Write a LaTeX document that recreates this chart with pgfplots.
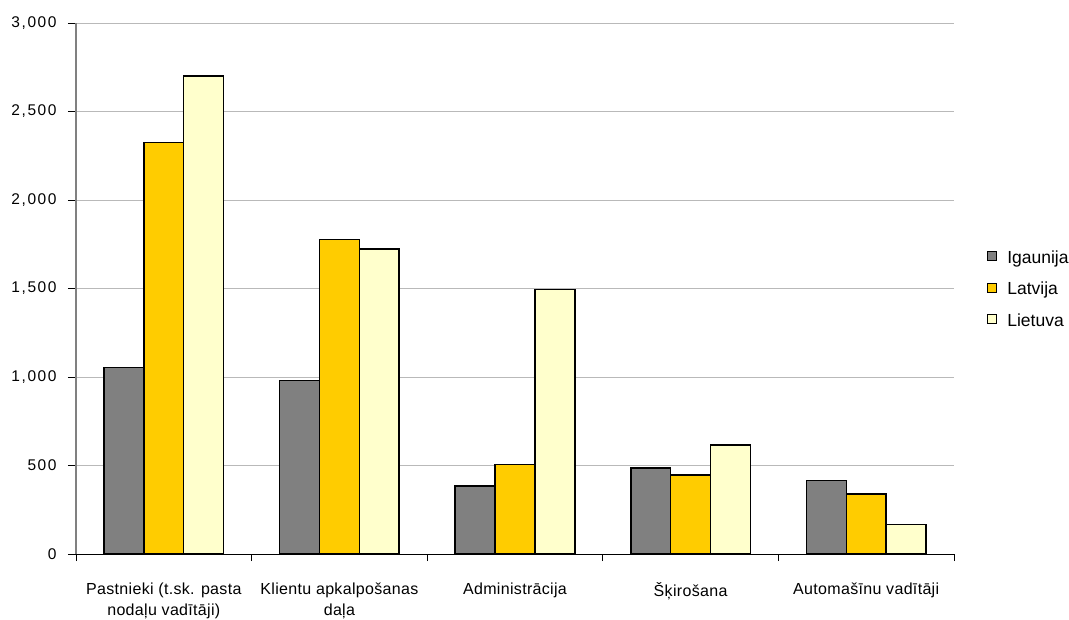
\documentclass[border=0pt]{standalone}
\usepackage{fontspec}
\setmainfont{Liberation Sans}
\newfontfamily\xfont[LetterSpace=2]{Liberation Sans}
\newfontfamily\yfont[LetterSpace=10]{Liberation Sans}
\usepackage{pgfplots}
\pgfplotsset{compat=1.18}
\definecolor{cgray}{HTML}{808080}
\definecolor{cgold}{HTML}{FFCC00}
\definecolor{cpale}{HTML}{FFFFCC}
\begin{document}
\begin{tikzpicture}[x=1pt,y=1pt]
\path[use as bounding box] (-76,-65) rectangle (993,554);
\begin{axis}[
  at={(0,0)}, anchor=south west,
  scale only axis, width=878pt, height=531pt,
  xmin=-0.5, xmax=4.5, ymin=0, ymax=3000,
  axis x line*=bottom, axis y line*=left,
  x axis line style={black, line width=1pt, -},
  y axis line style={gray, line width=1.2pt, -},
  ybar, bar width=0.227,
  xtick={0,1,2,3,4},
  xticklabels={{Pastnieki (t.sk. pasta\\noda\c{l}u vad\={\i}t\={a}ji)},{Klientu apkalpo\v{s}anas\\da\c{l}a},{Administr\={a}cija},{\v{S}\c{k}iro\v{s}ana},{Automa\v{s}\={\i}nu vad\={\i}t\={a}ji}},
  xticklabel style={align=center, font=\xfont\fontsize{16}{21}\selectfont, yshift=-17pt},
  minor xtick={-0.5,0.5,...,4.5},
  major x tick style={draw=none},
  minor x tick style={black, line width=0.8pt},
  minor tick length=7pt,
  ytick={0,500,...,3000},
  major y tick style={black, line width=1pt},
  major tick length=8pt,
  tick align=outside,
  ymajorgrids, grid style={gray!55, line width=0.8pt},
  yticklabel style={font=\yfont\fontsize{15.5}{18}\selectfont, xshift=-8pt},
  /pgf/number format/.cd, 1000 sep={,}, assume math mode=true,
  /pgfplots/.cd,
  legend style={at={(1.0376,0.5725)}, anchor=north west, draw=none, fill=none,
    font=\fontsize{17.5}{20}\selectfont, row sep=14.5pt, column sep=10pt, inner sep=0pt,
    nodes={inner sep=0pt, text height=13pt, text depth=4pt}},
  legend cell align=left,
  legend image code/.code={\draw[#1, line width=1.1pt] (0pt,-2pt) rectangle (9pt,7pt);},
]
\addplot[bar shift=-0.227, fill=cgray, draw=black, line width=1.5pt] coordinates {(0,1055) (1,980) (2,385) (3,487) (4,415)};
\addplot[bar shift=0, fill=cgold, draw=black, line width=1.5pt] coordinates {(0,2325) (1,1777) (2,505) (3,447) (4,340)};
\addplot[bar shift=0.227, fill=cpale, draw=black, line width=1.5pt] coordinates {(0,2700) (1,1723) (2,1495) (3,615) (4,166)};
\legend{Igaunija,Latvija,Lietuva}
\end{axis}
\end{tikzpicture}
\end{document}
